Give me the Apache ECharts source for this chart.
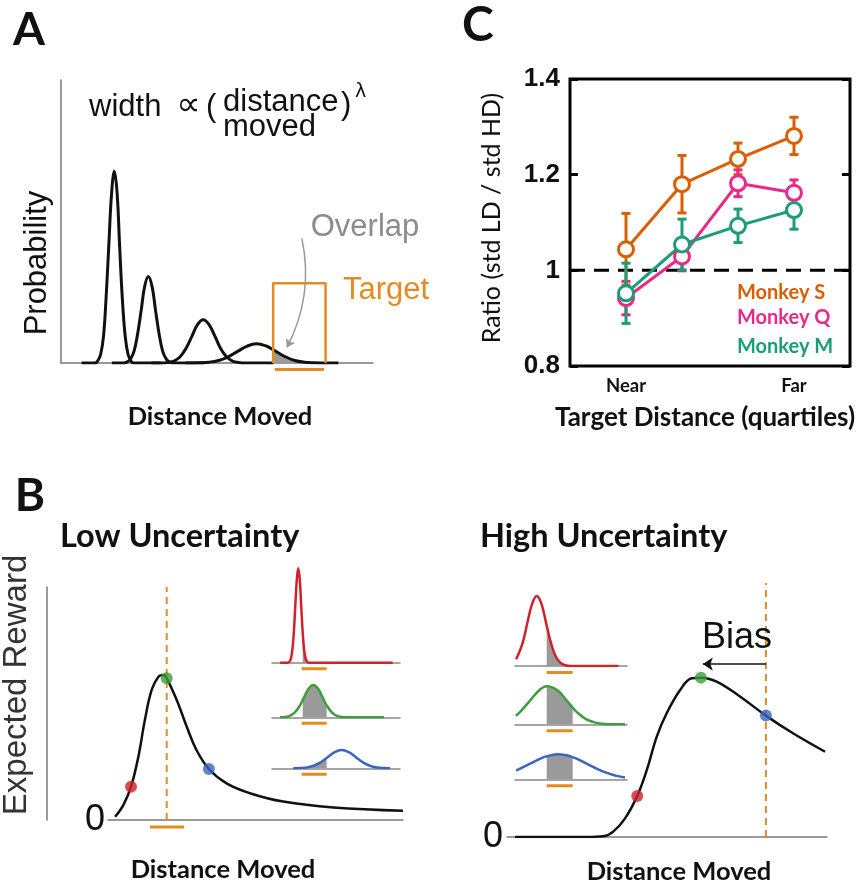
<!DOCTYPE html>
<html>
<head>
<meta charset="utf-8">
<script src="https://cdn.jsdelivr.net/npm/echarts@6/dist/echarts.min.js"></script>
<style>
  html, body { margin: 0; padding: 0; background: #fff; }
  #chart { width: 859px; height: 886px; }
</style>
</head>
<body>
<div id="chart"></div>
<script>
// ---------- Panel A: movement-endpoint distributions (distance, probability) ----------
const spreadNear = [[0.66,0],[1.1,0],[1.18,0.008],[1.27,0.03],[1.36,0.092],[1.44,0.22],[1.53,0.411],[1.62,0.598],[1.71,0.678],[1.8,0.598],[1.88,0.411],[1.97,0.22],[2.06,0.092],[2.15,0.03],[2.24,0.008],[2.32,0],[3.2,0]];
const spreadMid1 = [[1.63,0],[2.0,0],[2.11,0.003],[2.22,0.013],[2.34,0.041],[2.45,0.099],[2.57,0.186],[2.68,0.27],[2.8,0.306],[2.92,0.27],[3.03,0.186],[3.15,0.099],[3.26,0.041],[3.38,0.013],[3.49,0.003],[3.62,0],[4.6,0]];
const spreadMid2 = [[2.9,0],[3.3,0],[3.44,0.002],[3.62,0.007],[3.81,0.021],[4.0,0.05],[4.19,0.093],[4.37,0.135],[4.56,0.153],[4.75,0.135],[4.94,0.093],[5.12,0.05],[5.31,0.021],[5.5,0.007],[5.69,0.002],[5.9,0],[6.8,0]];
const spreadFar = [[4.0,0],[4.44,0.001],[4.75,0.003],[5.05,0.009],[5.36,0.022],[5.66,0.041],[5.97,0.06],[6.27,0.068],[6.58,0.06],[6.8,0.047],[7.19,0.022],[7.49,0.009],[7.8,0.003],[8.1,0.001],[8.5,0],[8.89,0]];
const overlapFar = [[6.8,0.047],[7.19,0.022],[7.49,0.009],[7.8,0.003],[8.1,0.001],[8.48,0]];
const targetA = { from: 6.8, to: 8.48, top: 0.282 };
const overlapArrow = [[7.72,0.44],[7.24,0.055]];

// ---------- Panel B: expected reward vs. distance moved ----------
const rewardLow = [[0.24,0.014],[0.52,0.064],[0.78,0.143],[1.03,0.272],[1.25,0.429],[1.48,0.558],[1.71,0.615],[1.88,0.622],[1.99,0.608],[2.33,0.515],[2.67,0.40],[3.0,0.30],[3.42,0.219],[4.02,0.157],[4.81,0.115],[5.94,0.079],[7.64,0.054],[10.0,0.04]];
const aimsLow = [[0.78,0.143],[1.99,0.608],[3.42,0.219]];
const targetLow = { at: 1.99, from: 1.42, to: 2.58 };

const rewardHigh = [[0.25,0],[2.5,0],[3.01,0.003],[3.32,0.023],[3.69,0.08],[4.07,0.176],[4.37,0.288],[4.68,0.431],[4.99,0.531],[5.41,0.631],[5.77,0.681],[6.06,0.684],[6.55,0.667],[7.28,0.603],[8.09,0.521],[8.95,0.444],[9.94,0.366]];
const aimsHigh = [[4.07,0.176],[6.06,0.684],[8.09,0.521]];
const targetHigh = { at: 8.09, top: 1.09 };
const biasArrow = [[8.09,0.742],[6.12,0.742]];

// inset endpoint distributions, low uncertainty
const lowRed = [[0.63,0],[1.2,0],[1.36,0.01],[1.48,0.041],[1.59,0.128],[1.71,0.307],[1.82,0.573],[1.94,0.833],[2.05,0.944],[2.17,0.833],[2.28,0.573],[2.4,0.297],[2.51,0.128],[2.63,0.041],[2.74,0.01],[2.9,0],[9.43,0]];
const lowRedHit = [[2.4,0.297],[2.51,0.128],[2.63,0.041],[2.74,0.01],[2.9,0],[4.27,0]];
const lowGreen = [[0.63,0],[0.8,0],[1.01,0.004],[1.38,0.014],[1.75,0.044],[2.12,0.105],[2.4,0.172],[2.86,0.285],[3.23,0.323],[3.6,0.285],[3.97,0.196],[4.27,0.12],[4.71,0.044],[5.08,0.014],[5.45,0.004],[5.8,0],[8.75,0]];
const lowGreenHit = [[2.4,0.172],[2.86,0.285],[3.23,0.323],[3.6,0.285],[3.97,0.196],[4.27,0.12]];
const lowBlue = [[1.66,0],[2.15,0.002],[2.4,0.004],[2.7,0.008],[3.25,0.025],[3.8,0.059],[4.27,0.103],[4.9,0.161],[5.45,0.183],[6.0,0.161],[6.55,0.111],[7.1,0.059],[7.65,0.025],[8.2,0.008],[8.75,0.002],[9.22,0]];
const lowBlueHit = [[2.4,0.004],[2.7,0.008],[3.25,0.025],[3.8,0.059],[4.27,0.103]];
const lowWindow = [2.32, 4.27];

// inset endpoint distributions, high uncertainty
const highRed = [[0.1,0.067],[0.67,0.227],[1.09,0.425],[1.52,0.618],[1.94,0.7],[2.37,0.618],[2.83,0.404],[3.22,0.227],[3.64,0.095],[4.07,0.031],[4.49,0.008],[5.0,0],[9.23,0]];
const highRedHit = [[2.83,0.404],[3.22,0.227],[3.64,0.095],[4.07,0.031],[4.49,0.008],[5.0,0],[5.15,0]];
const highGreen = [[0.07,0.086],[0.46,0.124],[1.3,0.232],[2.14,0.338],[2.83,0.381],[3.82,0.338],[4.66,0.232],[5.15,0.166],[5.5,0.124],[6.34,0.052],[7.18,0.017],[8.02,0.004],[9.82,0]];
const highGreenHit = [[2.83,0.381],[3.82,0.338],[4.66,0.232],[5.15,0.166]];
const highBlue = [[0.1,0.087],[1.27,0.152],[2.57,0.221],[2.83,0.231],[3.87,0.25],[5.15,0.222],[6.47,0.152],[7.77,0.081],[9.07,0.034],[9.82,0.018]];
const highBlueHit = [[2.83,0.231],[3.87,0.25],[5.15,0.222]];
const highWindow = [2.83, 5.15];

// ---------- Panel C: ratio of endpoint spread, per target-distance quartile ----------
const quartiles = [1, 2, 3, 4];
const quartileLabels = ['Near', '', '', 'Far'];
const ratioTicks = [0.8, 1.0, 1.2, 1.4];
const ratioS = [1.044, 1.18, 1.233, 1.281];
const errS   = [0.075, 0.06, 0.033, 0.039];
const ratioQ = [0.942, 1.029, 1.182, 1.162];
const errQ   = [0.035, 0.03, 0.028, 0.027];
const ratioM = [0.952, 1.054, 1.093, 1.126];
const errM   = [0.063, 0.053, 0.035, 0.04];
const monkeys = ['Monkey S', 'Monkey Q', 'Monkey M'];

// ---------- styling ----------
const ORANGE = '#E38C1F';
const GRAY_AXIS = '#7a7a7a';
const SHADE = '#9a9a9a';
const RED = '#D0222A', GREEN = '#3C9E3C', BLUE = '#3A66BE';
const C_S = '#D95F02', C_Q = '#E7298A', C_M = '#1B9E77';
const CAL = 'Lato', ARIAL = 'Liberation Sans';

const chart = echarts.init(document.getElementById('chart'), null, { renderer: 'canvas' });

const grids = [
  { left: 61,  top: 80,    width: 312, height: 283 },  // 0  A
  { left: 570, top: 79,    width: 280, height: 287, show: true, borderColor: '#000', borderWidth: 3, backgroundColor: 'transparent' }, // 1 C
  { left: 108, top: 587,   width: 295, height: 233 },  // 2  B low
  { left: 272, top: 562.7, width: 128, height: 100 },  // 3  inset red
  { left: 272, top: 617.3, width: 128, height: 100 },  // 4  inset green
  { left: 272, top: 668.3, width: 128, height: 100 },  // 5  inset blue
  { left: 507, top: 604,   width: 320, height: 233 },  // 6  B high
  { left: 515, top: 566,   width: 112, height: 100 },  // 7  inset red
  { left: 515, top: 624.3, width: 112, height: 100 },  // 8  inset green
  { left: 515, top: 679.3, width: 112, height: 100 }   // 9  inset blue
];

function baseX(gi, min, max, lineColor, lineWidth) {
  return {
    type: 'value', gridIndex: gi, min, max,
    axisLine: { show: !!lineColor, onZero: false, lineStyle: { color: lineColor || '#000', width: lineWidth || 1.5 } },
    axisTick: { show: false }, axisLabel: { show: false }, splitLine: { show: false }
  };
}
function hiddenY(gi, min, max) {
  return { type: 'value', gridIndex: gi, min, max, show: false, splitLine: { show: false } };
}

const xAxes = [
  baseX(0, 0, 10, GRAY_AXIS, 1.5),
  {
    type: 'value', gridIndex: 1, min: 0, max: 5, interval: 1,
    axisLine: { show: false }, axisTick: { show: false }, splitLine: { show: false },
    axisLabel: {
      margin: 11, color: '#111', fontFamily: CAL, fontWeight: 'bold', fontSize: 18.5,
      formatter: v => { const i = quartiles.indexOf(v); return i >= 0 ? quartileLabels[i] : ''; }
    }
  },
  baseX(2, 0, 10, GRAY_AXIS, 1.5),
  baseX(3, 0, 10, '#888', 1.5),
  baseX(4, 0, 10, '#888', 1.5),
  baseX(5, 0, 10, '#888', 1.5),
  baseX(6, 0, 10, GRAY_AXIS, 1.5),
  baseX(7, 0, 10, '#888', 1.5),
  baseX(8, 0, 10, '#888', 1.5),
  baseX(9, 0, 10, '#888', 1.5)
];

const yAxes = [
  { type: 'value', gridIndex: 0, min: 0, max: 1, position: 'left',
    axisLine: { show: true, onZero: false, lineStyle: { color: GRAY_AXIS, width: 1.5 } },
    axisTick: { show: false }, axisLabel: { show: false }, splitLine: { show: false } },
  { type: 'value', gridIndex: 1, position: 'left', min: ratioTicks[0], max: ratioTicks[ratioTicks.length - 1], interval: 0.2,
    axisLine: { show: false, onZero: false }, splitLine: { show: false },
    axisTick: { show: true, inside: true, length: 8, lineStyle: { color: '#000', width: 3 } },
    axisLabel: { margin: 10, color: '#111', fontFamily: ARIAL, fontWeight: 'bold', fontSize: 26,
      formatter: v => (Math.abs(v - 1) < 1e-9 ? '1' : v.toFixed(1)) } },
  { type: 'value', gridIndex: 2, position: 'left', min: 0, max: 1, offset: 61,
    axisLine: { show: true, onZero: false, lineStyle: { color: GRAY_AXIS, width: 1.5 } },
    axisTick: { show: false }, axisLabel: { show: false }, splitLine: { show: false } },
  hiddenY(3, 0, 1), hiddenY(4, 0, 1), hiddenY(5, 0, 1),
  { type: 'value', gridIndex: 6, position: 'left', min: 0, max: 1, interval: 1,
    axisLine: { show: false, onZero: false }, axisTick: { show: false }, splitLine: { show: false },
    axisLabel: { margin: 4, color: '#111', fontFamily: ARIAL, fontSize: 36, formatter: v => (v === 0 ? '0' : '') } },
  hiddenY(7, 0, 1), hiddenY(8, 0, 1), hiddenY(9, 0, 1),
  // 10: right-hand ticks of panel C
  { type: 'value', gridIndex: 1, position: 'right', min: ratioTicks[0], max: ratioTicks[ratioTicks.length - 1], interval: 0.2,
    axisLine: { show: false, onZero: false }, splitLine: { show: false }, axisLabel: { show: false },
    axisTick: { show: true, inside: true, length: 8, lineStyle: { color: '#000', width: 3 } } },
  // 11: zero label of the low-uncertainty panel
  { type: 'value', gridIndex: 2, position: 'left', offset: 0, min: 0, max: 1, interval: 1,
    axisLine: { show: false, onZero: false }, axisTick: { show: false }, splitLine: { show: false },
    axisLabel: { margin: 3, color: '#111', fontFamily: ARIAL, fontSize: 36, formatter: v => (v === 0 ? '0' : '') } }
];

function curve(gi, data, color, width, z) {
  return { type: 'line', xAxisIndex: gi, yAxisIndex: gi, data, smooth: 0.4, symbol: 'none',
    lineStyle: { color, width }, z: z || 3, silent: true };
}
function shade(gi, data) {
  return { type: 'line', xAxisIndex: gi, yAxisIndex: gi, data, smooth: 0.4, symbol: 'none',
    lineStyle: { width: 0 }, areaStyle: { color: SHADE, opacity: 1 }, z: 2, silent: true };
}
function bar(gi, from, to, y, color) {
  return { type: 'line', xAxisIndex: gi, yAxisIndex: gi, data: [[from, y], [to, y]], symbol: 'none',
    lineStyle: { color, width: 3 }, clip: false, z: 3, silent: true };
}
function dots(gi, pts, colors) {
  return { type: 'scatter', xAxisIndex: gi, yAxisIndex: gi, symbolSize: 12, z: 5, silent: true,
    data: pts.map((p, i) => ({ value: p, itemStyle: { color: colors[i] } })) };
}
function monkeyLine(vals, color) {
  return { type: 'line', xAxisIndex: 1, yAxisIndex: 1, data: quartiles.map((q, i) => [q, vals[i]]),
    symbol: 'circle', symbolSize: 15, lineStyle: { color, width: 3 },
    itemStyle: { color: '#fff', borderColor: color, borderWidth: 3 }, z: 4, silent: true };
}
function errorBars(vals, errs, color) {
  return { type: 'custom', xAxisIndex: 1, yAxisIndex: 1, z: 3, silent: true,
    data: quartiles.map((q, i) => [q, vals[i] - errs[i], vals[i] + errs[i]]),
    encode: { x: 0, y: [1, 2] },
    renderItem: (params, api) => {
      const x = api.value(0);
      const lo = api.coord([x, api.value(1)]);
      const hi = api.coord([x, api.value(2)]);
      const w = 4.5;
      const st = { stroke: color, lineWidth: 3 };
      return { type: 'group', children: [
        { type: 'line', shape: { x1: hi[0], y1: hi[1], x2: lo[0], y2: lo[1] }, style: st },
        { type: 'line', shape: { x1: hi[0] - w, y1: hi[1], x2: hi[0] + w, y2: hi[1] }, style: st },
        { type: 'line', shape: { x1: lo[0] - w, y1: lo[1], x2: lo[0] + w, y2: lo[1] }, style: st }
      ] };
    } };
}

const series = [
  // Panel A
  shade(0, overlapFar),
  curve(0, spreadNear, '#111', 3),
  curve(0, spreadMid1, '#111', 3),
  curve(0, spreadMid2, '#111', 3),
  curve(0, spreadFar, '#111', 3),
  { type: 'line', xAxisIndex: 0, yAxisIndex: 0, symbol: 'none', clip: false, z: 4, silent: true,
    data: [[targetA.from, 0], [targetA.from, targetA.top], [targetA.to, targetA.top], [targetA.to, 0]],
    lineStyle: { color: ORANGE, width: 2.5 } },
  bar(0, targetA.from + 0.05, targetA.to - 0.05, -0.023, ORANGE),
  { type: 'lines', coordinateSystem: 'cartesian2d', xAxisIndex: 0, yAxisIndex: 0, polyline: false, z: 5, silent: true,
    symbol: ['none', 'arrow'], symbolSize: 8,
    lineStyle: { color: '#999', width: 1.5, curveness: 0.18, opacity: 1 },
    data: [{ coords: overlapArrow }] },

  // Panel C
  { type: 'line', xAxisIndex: 1, yAxisIndex: 1, data: [[0, 1], [5, 1]], symbol: 'none', z: 2, silent: true,
    lineStyle: { color: '#000', width: 3, type: [15, 9] } },
  errorBars(ratioS, errS, C_S),
  errorBars(ratioQ, errQ, C_Q),
  errorBars(ratioM, errM, C_M),
  monkeyLine(ratioS, C_S),
  monkeyLine(ratioQ, C_Q),
  monkeyLine(ratioM, C_M),

  // Panel B, low uncertainty
  { type: 'line', xAxisIndex: 2, yAxisIndex: 2, data: [[targetLow.at, 0], [targetLow.at, 1]], symbol: 'none', z: 2, silent: true,
    lineStyle: { color: ORANGE, width: 2, type: [7, 5] } },
  curve(2, rewardLow, '#111', 2.5),
  bar(2, targetLow.from, targetLow.to, -0.03, ORANGE),
  dots(2, aimsLow, [RED, GREEN, BLUE]),
  shade(3, lowRedHit), curve(3, lowRed, RED, 2.5), bar(3, lowWindow[0], lowWindow[1], -0.06, ORANGE),
  shade(4, lowGreenHit), curve(4, lowGreen, GREEN, 2.5), bar(4, lowWindow[0], lowWindow[1], -0.06, ORANGE),
  shade(5, lowBlueHit), curve(5, lowBlue, BLUE, 2.5), bar(5, lowWindow[0], lowWindow[1], -0.06, ORANGE),

  // Panel B, high uncertainty
  { type: 'line', xAxisIndex: 6, yAxisIndex: 6, data: [[targetHigh.at, 0], [targetHigh.at, targetHigh.top]], symbol: 'none', z: 2, silent: true,
    clip: false, lineStyle: { color: ORANGE, width: 2, type: [7, 5] } },
  curve(6, rewardHigh, '#111', 2.5),
  dots(6, aimsHigh, [RED, GREEN, BLUE]),
  { type: 'lines', coordinateSystem: 'cartesian2d', xAxisIndex: 6, yAxisIndex: 6, polyline: false, z: 5, silent: true,
    symbol: ['none', 'arrow'], symbolSize: 10,
    lineStyle: { color: '#111', width: 1.5, curveness: 0, opacity: 1 },
    data: [{ coords: biasArrow }] },
  shade(7, highRedHit), curve(7, highRed, RED, 2.5), bar(7, highWindow[0], highWindow[1], -0.065, ORANGE),
  shade(8, highGreenHit), curve(8, highGreen, GREEN, 2.5), bar(8, highWindow[0], highWindow[1], -0.065, ORANGE),
  shade(9, highBlueHit), curve(9, highBlue, BLUE, 2.5), bar(9, highWindow[0], highWindow[1], -0.065, ORANGE)
];

function txt(s, x, y, size, o) {
  o = o || {};
  return { type: 'text', x, y, rotation: o.rot || 0, silent: true, z: 10,
    style: { text: s, fontSize: size, fontFamily: o.font || ARIAL, fontWeight: o.bold ? 'bold' : 'normal',
      fill: o.color || '#111', align: o.align || 'center', verticalAlign: 'middle' } };
}

const graphic = [
  txt('A', 29, 30, 46, { font: CAL, bold: true }),
  txt('C', 478, 26, 48, { font: CAL, bold: true }),
  txt('B', 30, 496, 46, { font: CAL, bold: true }),
  // panel A annotations
  txt('width', 89, 107.6, 31, { align: 'left' }),
  txt('\u221D', 188.5, 106, 34, { font: 'DejaVu Sans' }),
  txt('(', 206, 107, 31, { align: 'left' }),
  txt('distance', 223, 102, 31, { align: 'left' }),
  txt('moved', 223, 127.6, 31, { align: 'left' }),
  txt(')', 341, 105, 31, { align: 'left' }),
  txt('\u03BB', 355, 92, 19, { align: 'left', font: 'DejaVu Sans' }),
  txt('Probability', 37, 263, 31, { rot: Math.PI / 2 }),
  txt('Overlap', 365, 227, 31, { color: '#8c8c8c' }),
  txt('Target', 386, 290, 31, { color: ORANGE }),
  txt('Distance Moved', 220, 417, 25.5, { font: CAL, bold: true }),
  // panel B annotations
  txt('Low Uncertainty', 60, 537, 32.5, { font: CAL, bold: true, align: 'left' }),
  txt('High Uncertainty', 480, 537, 32.5, { font: CAL, bold: true, align: 'left' }),
  txt('Expected Reward', 17, 685, 33, { rot: Math.PI / 2, color: '#333' }),
  txt('Distance Moved', 223, 870, 25.5, { font: CAL, bold: true }),
  txt('Distance Moved', 679, 872, 25.5, { font: CAL, bold: true }),
  txt('Bias', 737, 638, 36),
  // panel C annotations
  txt('Ratio (std LD / std HD)', 492, 218, 25, { font: CAL, rot: Math.PI / 2 }),
  txt('Target Distance (quartiles)', 705, 418, 26, { font: CAL, bold: true }),
  txt(monkeys[0], 737, 293, 20, { font: CAL, bold: true, align: 'left', color: C_S }),
  txt(monkeys[1], 737, 318, 20, { font: CAL, bold: true, align: 'left', color: C_Q }),
  txt(monkeys[2], 737, 347, 20, { font: CAL, bold: true, align: 'left', color: C_M })
];

chart.setOption({
  animation: false,
  backgroundColor: '#fff',
  grid: grids,
  xAxis: xAxes,
  yAxis: yAxes,
  series,
  graphic
});
</script>
</body>
</html>
